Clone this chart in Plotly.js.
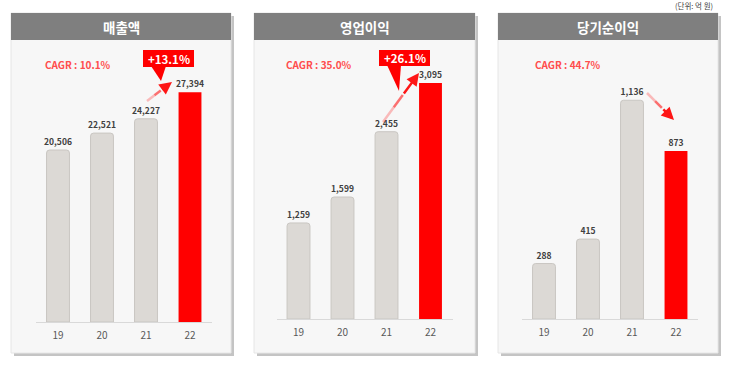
<!DOCTYPE html>
<html><head><meta charset="utf-8">
<script src="https://cdn.plot.ly/plotly-3.0.1.min.js"></script>
<style>html,body{margin:0;padding:0;background:#fff}#chart{width:730px;height:366px}</style>
</head><body><div id="chart"></div>
<script>
// ---- data ----
const years = ['19', '20', '21', '22'];
const sales = [20506, 22521, 24227, 27394];       // 매출액
const opProfit = [1259, 1599, 2455, 3095];        // 영업이익
const netProfit = [288, 415, 1136, 873];          // 당기순이익
const panelTitles = ['매출액', '영업이익', '당기순이익'];
const cagrLabels = ['CAGR : 10.1%', 'CAGR : 35.0%', 'CAGR : 44.7%'];
const growthLabels = ['+13.1%', '+26.1%'];
const unitLabel = '(단위: 억 원)';

const W = 730, H = 366;
const X = px => px / W;
const Y = py => 1 - py / H;
const FONT = '"Noto Sans CJK KR", "Noto Sans", sans-serif';

const series = [sales, opProfit, netProfit];
const panels = [
  {x0: 11, x1: 231, ax0: 36, ax1: 212, base: 322, top: 50, ymax: 32428},
  {x0: 254, x1: 475, ax0: 276.5, ax1: 452.5, base: 319, top: 50, ymax: 3526},
  {x0: 498, x1: 718, ax0: 522, ax1: 698, base: 319, top: 50, ymax: 1397}
];

const traces = [];
const layout = {
  width: W, height: H, margin: {l: 0, r: 0, t: 0, b: 0},
  paper_bgcolor: '#ffffff', plot_bgcolor: 'rgba(0,0,0,0)',
  showlegend: false, bargap: 0.48,
  font: {family: FONT},
  shapes: [], annotations: []
};

panels.forEach((p, i) => {
  const n = i + 1;
  const xa = 'x' + (n === 1 ? '' : n), ya = 'y' + (n === 1 ? '' : n);
  const vals = series[i];
  const common = {
    type: 'bar', xaxis: xa, yaxis: ya, width: 0.52,
    textposition: 'outside', texttemplate: '%{y:,}', cliponaxis: false, constraintext: 'none',
    textfont: {size: 8.5, color: '#404040', family: FONT, weight: 'bold'},
    hoverinfo: 'skip'
  };
  traces.push(Object.assign({}, common, {
    x: years.slice(0, 3), y: vals.slice(0, 3),
    marker: {color: '#dcd9d5', line: {color: '#c9c6c2', width: 1}, cornerradius: 3}
  }));
  traces.push(Object.assign({}, common, {
    x: years.slice(3), y: vals.slice(3),
    marker: {color: '#ff0000', line: {width: 0}}
  }));
  layout['xaxis' + (n === 1 ? '' : n)] = {
    domain: [X(p.ax0), X(p.ax1)], anchor: ya, type: 'category',
    range: [-0.5, 3.5], showgrid: false, zeroline: false,
    showline: true, linecolor: '#d9d9d9', linewidth: 1, ticks: '', ticklabelstandoff: 4,
    tickfont: {size: 10, color: '#595959', family: FONT}, fixedrange: true
  };
  layout['yaxis' + (n === 1 ? '' : n)] = {
    domain: [Y(p.base), Y(p.top)], anchor: xa, range: [0, p.ymax],
    visible: false, showgrid: false, zeroline: false, fixedrange: true
  };
  // panel shadow, background, header
  layout.shapes.push({type: 'rect', xref: 'paper', yref: 'paper', layer: 'below',
    x0: X(p.x0 + 3), x1: X(p.x1 + 3), y0: Y(356), y1: Y(16),
    fillcolor: '#c4c4c4', line: {width: 0}});
  layout.shapes.push({type: 'rect', xref: 'paper', yref: 'paper', layer: 'below',
    x0: X(p.x0), x1: X(p.x1), y0: Y(353), y1: Y(13),
    fillcolor: '#f7f7f7', line: {color: '#e6e6e6', width: 1}});
  layout.shapes.push({type: 'rect', xref: 'paper', yref: 'paper', layer: 'below',
    x0: X(p.x0), x1: X(p.x1), y0: Y(40), y1: Y(13),
    fillcolor: '#7f7f7f', line: {width: 0}});
  layout.annotations.push({xref: 'paper', yref: 'paper', x: X((p.x0 + p.x1) / 2), y: Y(27),
    text: '<b>' + panelTitles[i] + '</b>', showarrow: false, xanchor: 'center', yanchor: 'middle',
    font: {size: 13.5, color: '#ffffff', family: FONT}});
});

// CAGR labels
[[78, 65], [319, 65], [568, 65]].forEach((c, i) => {
  layout.annotations.push({xref: 'paper', yref: 'paper', x: X(c[0]), y: Y(c[1]),
    text: '<b>' + cagrLabels[i] + '</b>', showarrow: false, xanchor: 'center', yanchor: 'middle',
    font: {size: 10, color: '#ff4d4d', family: FONT}});
});

// callout boxes
const boxes = [
  {x0: 143, x1: 194, y0: 50, y1: 67, tri: [[151, 66], [166, 66], [161, 81]]},
  {x0: 379, x1: 430, y0: 50, y1: 66, tri: [[387, 65], [401, 65], [399, 91]]}
];
boxes.forEach((b, i) => {
  layout.shapes.push({type: 'rect', xref: 'paper', yref: 'paper',
    x0: X(b.x0), x1: X(b.x1), y0: Y(b.y1), y1: Y(b.y0), fillcolor: '#ff0000', line: {width: 0}});
  const t = b.tri;
  layout.shapes.push({type: 'path', xref: 'paper', yref: 'paper',
    path: `M ${X(t[0][0])} ${Y(t[0][1])} L ${X(t[1][0])} ${Y(t[1][1])} L ${X(t[2][0])} ${Y(t[2][1])} Z`,
    fillcolor: '#ff0000', line: {width: 0}});
  layout.annotations.push({xref: 'paper', yref: 'paper', x: X((b.x0 + b.x1) / 2), y: Y((b.y0 + b.y1) / 2),
    text: '<b>' + growthLabels[i] + '</b>', showarrow: false, xanchor: 'center', yanchor: 'middle',
    font: {size: 11.5, color: '#ffffff', family: FONT}});
});

// gradient-like arrows
function arrow(tx, ty, hx, hy) {
  const seg = [0.0, 0.3, 0.55];
  const ops = [0.25, 0.55];
  for (let k = 0; k < 2; k++) {
    const a = seg[k], b = seg[k + 1];
    layout.shapes.push({type: 'line', xref: 'paper', yref: 'paper',
      x0: X(tx + (hx - tx) * a), y0: Y(ty + (hy - ty) * a),
      x1: X(tx + (hx - tx) * b), y1: Y(ty + (hy - ty) * b),
      line: {color: 'rgba(255,0,0,' + ops[k] + ')', width: 2.5}});
  }
  const m = seg[2];
  layout.annotations.push({xref: 'paper', yref: 'paper', axref: 'paper', ayref: 'paper',
    x: X(hx), y: Y(hy), ax: X(tx + (hx - tx) * m), ay: Y(ty + (hy - ty) * m),
    text: '', showarrow: true, arrowhead: 2, arrowsize: 1, arrowwidth: 2.5, arrowcolor: 'rgba(255,10,10,0.95)'});
}
arrow(147, 101, 172, 82);
arrow(383, 122, 419, 73);
arrow(647, 93, 674, 120);

layout.annotations.push({xref: 'paper', yref: 'paper', x: X(694), y: Y(5),
  text: unitLabel, showarrow: false, xanchor: 'center', yanchor: 'middle',
  font: {size: 7.5, color: '#404040', family: FONT}});

Plotly.newPlot('chart', traces, layout, {displayModeBar: false, staticPlot: true});
</script></body></html>
